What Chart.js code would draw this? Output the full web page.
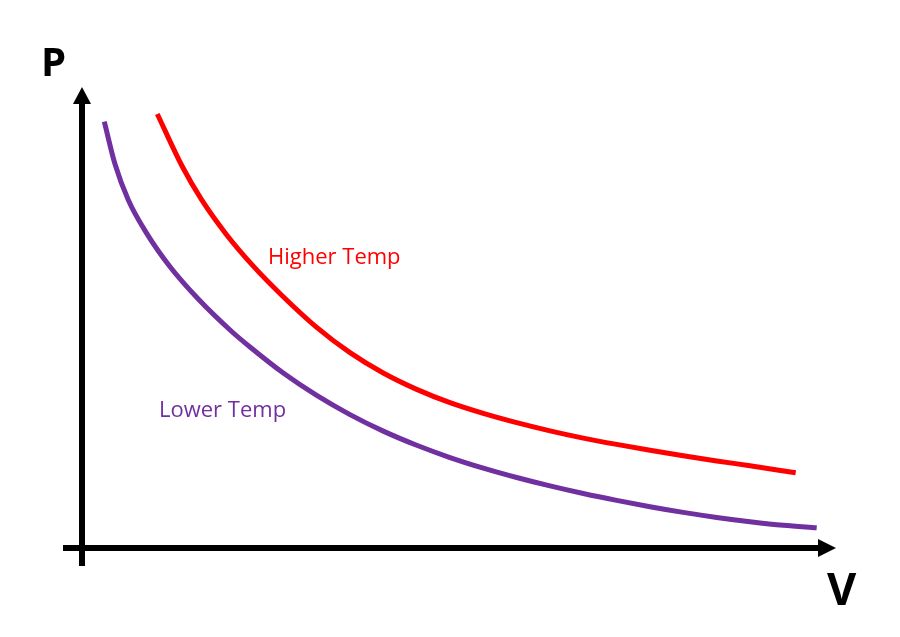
<!DOCTYPE html>
<html>
<head>
<meta charset="utf-8">
<script src="https://cdn.jsdelivr.net/npm/chart.js@4/dist/chart.umd.min.js"></script>
<style>
  html, body { margin: 0; padding: 0; background: #ffffff; }
  #wrap { width: 900px; height: 637px; position: relative; }
</style>
</head>
<body>
<div id="wrap"><canvas id="c" width="900" height="637"></canvas></div>
<script>
// Volume (arbitrary units, 0-100) and pressure (arbitrary units, 0-100)
const lowerTempV = [2.96, 4.38, 6.15, 8.59, 11.69, 15.44, 19.88, 22.31, 26.73, 31.17, 35.59, 40.01, 44.45, 48.87, 53.29, 57.73, 62.15, 66.57, 71.01, 75.43, 79.85, 84.29, 88.71, 93.13, 97.57];
const lowerTempP = [92.67, 83.48, 75.65, 68.41, 61.15, 54.13, 47.07, 43.7, 38.04, 33.17, 29.0, 25.41, 22.33, 19.67, 17.37, 15.33, 13.5, 11.85, 10.35, 8.98, 7.74, 6.65, 5.72, 4.93, 4.39];
const higherTempV = [10.0, 13.32, 15.9, 19.12, 22.75, 26.73, 31.17, 35.59, 40.01, 44.45, 48.87, 53.29, 57.73, 62.15, 66.57, 71.01, 75.43, 79.85, 84.29, 88.71, 94.78];
const higherTempP = [94.35, 82.93, 75.67, 68.28, 61.28, 54.63, 47.96, 42.46, 38.04, 34.48, 31.59, 29.26, 27.24, 25.46, 23.89, 22.52, 21.26, 20.07, 18.93, 17.89, 16.35];
const seriesNames = ['Lower Temp', 'Higher Temp'];
const axisTitles = { x: 'V', y: 'P' };

const toPts = (xs, ys) => xs.map((x, i) => ({ x: x, y: ys[i] }));

const PURPLE = '#7030A0';
const RED = '#FF0000';

const decor = {
  id: 'decor',
  afterDraw(chart) {
    const ctx = chart.ctx;
    const a = chart.chartArea;
    ctx.save();
    ctx.fillStyle = '#000';
    ctx.strokeStyle = '#000';
    ctx.lineWidth = 6;
    ctx.lineCap = 'butt';
    // y axis
    ctx.beginPath();
    ctx.moveTo(a.left, a.bottom + 18);
    ctx.lineTo(a.left, a.top + 14);
    ctx.stroke();
    ctx.beginPath();
    ctx.moveTo(a.left, a.top - 1);
    ctx.lineTo(a.left - 9, a.top + 16);
    ctx.lineTo(a.left + 9, a.top + 16);
    ctx.closePath();
    ctx.fill();
    // x axis
    ctx.beginPath();
    ctx.moveTo(a.left - 19, a.bottom);
    ctx.lineTo(a.right - 14, a.bottom);
    ctx.stroke();
    ctx.beginPath();
    ctx.moveTo(a.right + 1, a.bottom);
    ctx.lineTo(a.right - 17, a.bottom - 9);
    ctx.lineTo(a.right - 17, a.bottom + 9);
    ctx.closePath();
    ctx.fill();
    // axis titles
    ctx.textBaseline = 'alphabetic';
    ctx.textAlign = 'left';
    ctx.font = 'bold 40px "Open Sans", Lato, sans-serif';
    ctx.fillText(axisTitles.y, 41, 76);
    ctx.font = 'bold 45px "Open Sans", Lato, sans-serif';
    ctx.fillText(axisTitles.x, 827, 605);
    // series labels
    ctx.font = '22px "Open Sans", Lato, sans-serif';
    ctx.fillStyle = RED;
    ctx.fillText(seriesNames[1], 268, 264);
    ctx.fillStyle = PURPLE;
    ctx.fillText(seriesNames[0], 159, 417);
    ctx.restore();
  }
};

new Chart(document.getElementById('c'), {
  type: 'scatter',
  data: {
    datasets: [
      {
        label: seriesNames[0],
        data: toPts(lowerTempV, lowerTempP),
        showLine: true,
        borderColor: PURPLE,
        backgroundColor: PURPLE,
        borderWidth: 5,
        pointRadius: 0,
        cubicInterpolationMode: 'monotone',
        clip: false
      },
      {
        label: seriesNames[1],
        data: toPts(higherTempV, higherTempP),
        showLine: true,
        borderColor: RED,
        backgroundColor: RED,
        borderWidth: 5,
        pointRadius: 0,
        cubicInterpolationMode: 'monotone',
        clip: false
      }
    ]
  },
  options: {
    responsive: false,
    animation: false,
    layout: { padding: { left: 82, right: 65, top: 88, bottom: 89 } },
    plugins: { legend: { display: false }, tooltip: { enabled: false } },
    scales: {
      x: { type: 'linear', min: 0, max: 100, display: false },
      y: { type: 'linear', min: 0, max: 100, display: false }
    }
  },
  plugins: [decor]
});
</script>
</body>
</html>
